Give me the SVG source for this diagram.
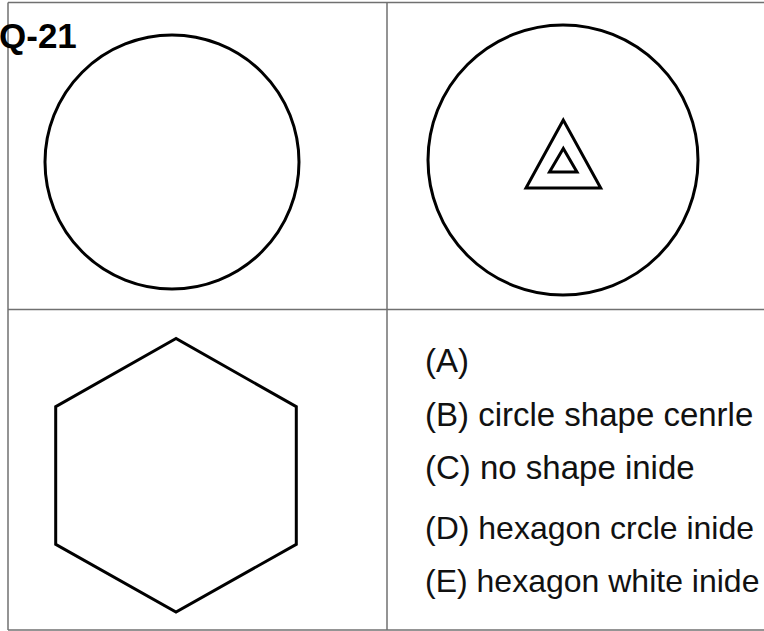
<svg xmlns="http://www.w3.org/2000/svg" width="764" height="631" viewBox="0 0 764 631">
<style>
.grid{stroke:#707070;stroke-width:1.5;fill:none}
.shape{stroke:#000;stroke-width:3;fill:none;stroke-linejoin:miter}
.opt{font-family:"Liberation Sans",Arial,sans-serif;font-size:33px;fill:#111}
.fit{font-size:32px}
.title{font-family:"Liberation Sans",Arial,sans-serif;font-size:35px;font-weight:bold;fill:#000}
</style>
<rect width="764" height="631" fill="#fff"/>
<g id="grid">
<line class="grid" x1="8" y1="2.5" x2="764" y2="2.5"/>
<line class="grid" x1="8" y1="2.5" x2="8" y2="630"/>
<line class="grid" x1="387" y1="2.5" x2="387" y2="630"/>
<line class="grid" x1="8" y1="309.5" x2="764" y2="309.5"/>
<line class="grid" x1="8" y1="630" x2="764" y2="630"/>
</g>
<g id="title"><text class="title" x="-1" y="48">Q-21</text></g>
<g id="fig1"><circle class="shape" cx="172" cy="162" r="127"/></g>
<g id="fig2">
<circle class="shape" cx="563" cy="160" r="135"/>
<polygon class="shape" points="563.3,120 526,188 600.7,188"/>
<polygon class="shape" points="563.3,148.5 549.5,172 577,172"/>
</g>
<g id="fig3"><polygon class="shape" points="176,338.5 55.7,406.7 55.7,544.3 176,612 296.3,544.3 296.3,406.7"/></g>
<g id="options">
<text class="opt" x="425" y="372">(A)</text>
<text class="opt" x="425" y="425.5">(B) circle shape cenrle</text>
<text class="opt" x="425" y="479">(C) no shape inide</text>
<text class="opt fit" x="425" y="538.5">(D) hexagon crcle inide</text>
<text class="opt fit" x="425" y="592">(E) hexagon white inide</text>
</g>
</svg>
